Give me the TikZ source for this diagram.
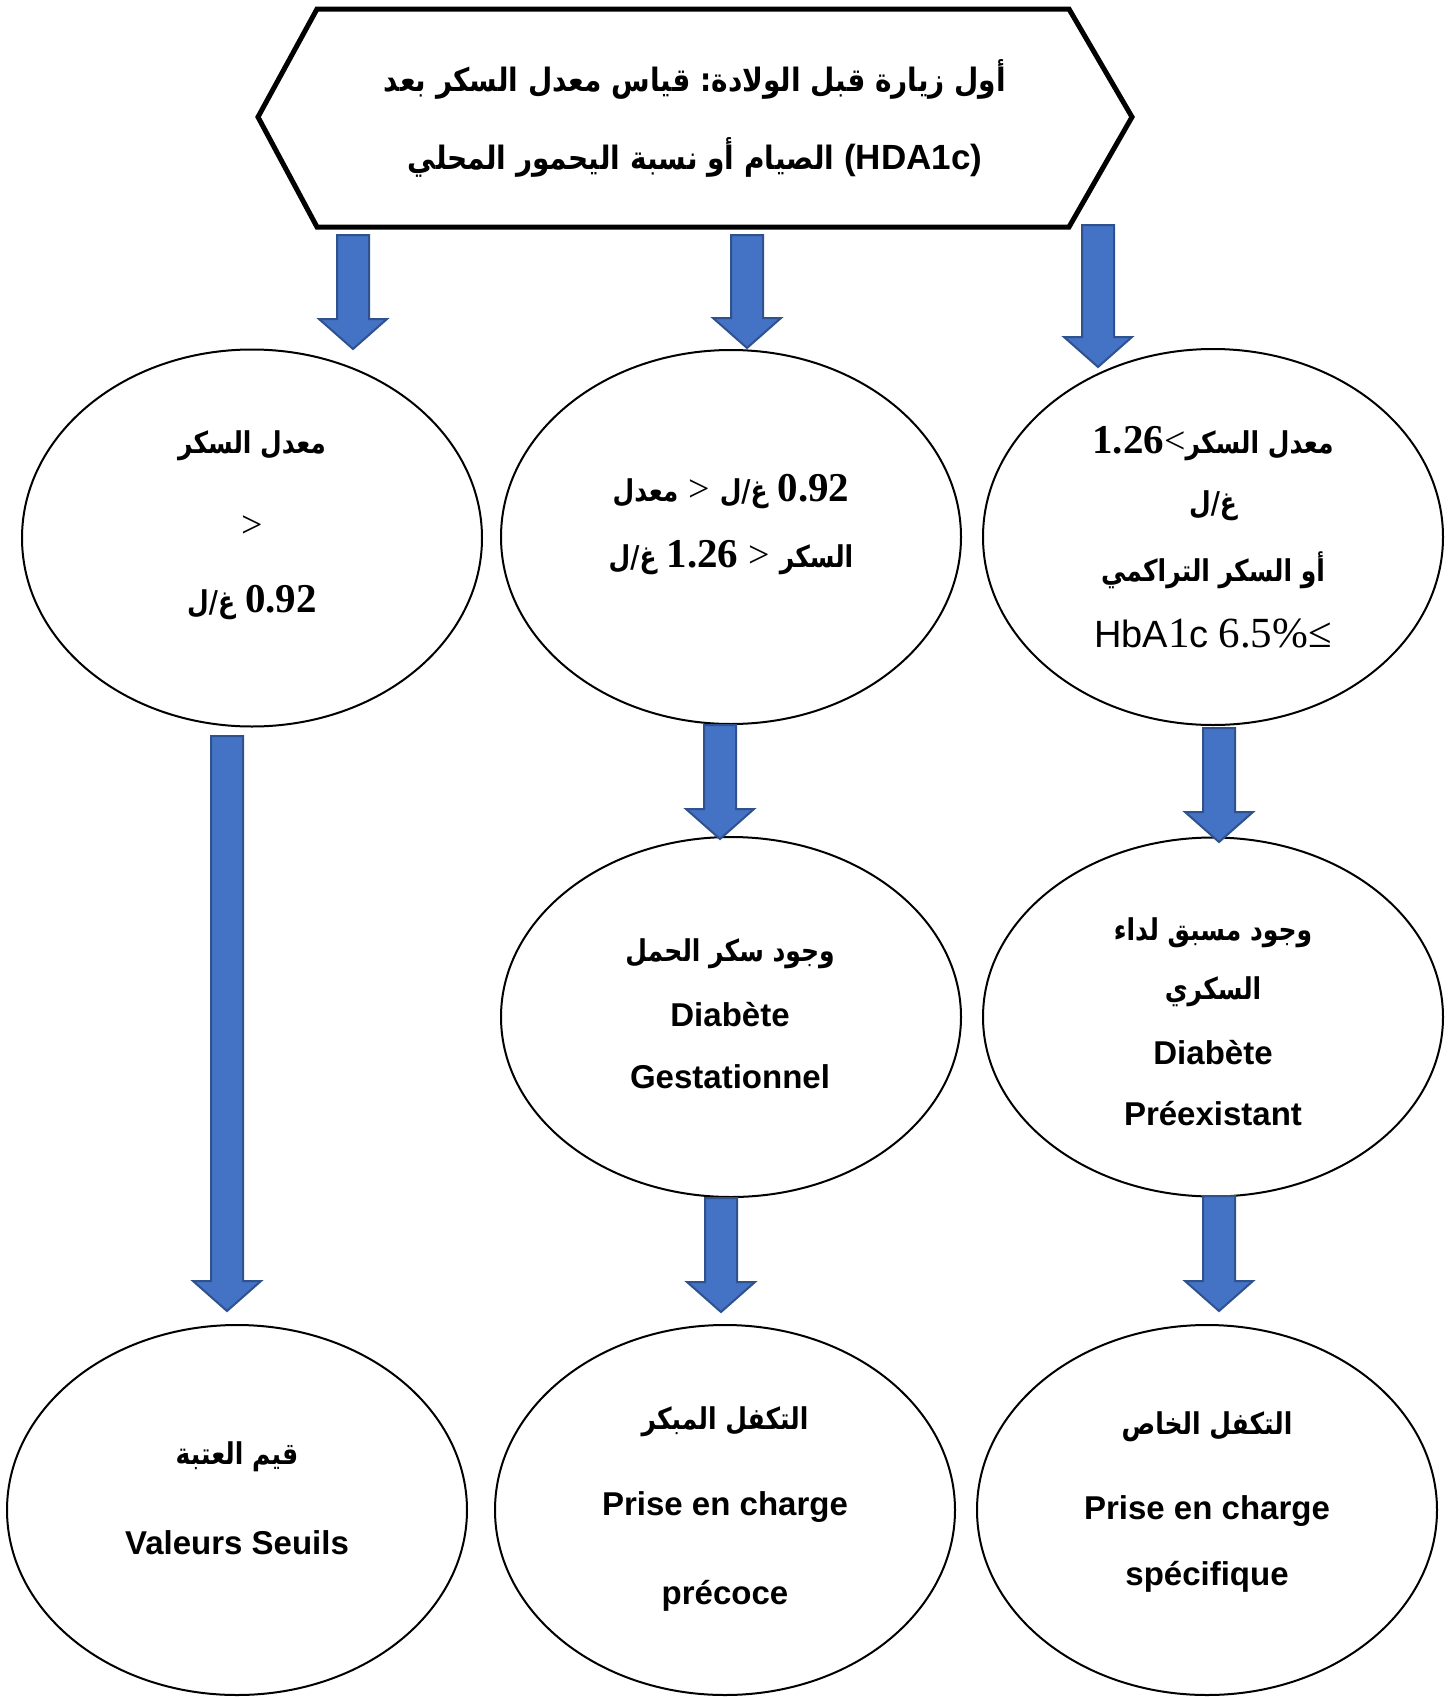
\documentclass[tikz,border=0pt]{standalone}
\usepackage{fontspec}
\usepackage{graphicx}
\usetikzlibrary{shapes.geometric,calc}
\setmainfont{Liberation Serif}
\newfontfamily\arfont[Script=Arabic]{DejaVu Sans}
\newfontfamily\lsans{Liberation Sans}
\TeXXeTstate=1
\frenchspacing

\definecolor{arrowfill}{HTML}{4472C4}
\definecolor{arrowedge}{HTML}{2F528F}

% Arabic run, bold, set right to left
\newcommand\ARb[1]{{\arfont\bfseries\beginR #1\endR}}
% the same, a little taller, for the text inside the ellipses
\newcommand\ARs[1]{\scalebox{1}[1.2]{\ARb{#1}}}
% font sizes
\newcommand\arsz{\fontsize{25}{30}\selectfont}
\newcommand\ttlsz{\fontsize{28}{36}\selectfont}
\newcommand\numsz{\fontsize{41}{48}\selectfont\bfseries}
\newcommand\relsz{\fontsize{38}{44}\selectfont}
\newcommand\latsz{\fontsize{33}{40}\selectfont\lsans\bfseries}
\newcommand\hbsz{\fontsize{38}{44}\selectfont\lsans}
\newcommand\hbnum{\fontsize{43}{50}\selectfont}
\newcommand\gap{\hspace{10pt}}

% broad block arrow from a start coordinate down to a tip coordinate
\newcommand\blockarrow[2]{%
  \draw[barrow] ($(#1)+(-16,0)$) -- ($(#2)+(-16,-30)$) -- ($(#2)+(-34,-30)$)
    -- (#2) -- ($(#2)+(34,-30)$) -- ($(#2)+(16,-30)$) -- ($(#1)+(16,0)$) -- cycle;}

\begin{document}
\begin{tikzpicture}[x=1pt,y=-1pt,
  ebox/.style={ellipse, draw=black, line width=2pt, fill=white,
    minimum width=460pt, inner sep=0pt},
  txt/.style={inner sep=0pt, anchor=center},
  barrow/.style={fill=arrowfill, draw=arrowedge, line width=2pt, line join=miter}]

\fill[white] (0,0) rectangle (1451,1697);
\useasboundingbox (0,0) rectangle (1451,1697);

% ---- heading hexagon ----
\draw[line width=5pt, line join=miter, fill=white]
  (317,9) -- (1069,9) -- (1132,117) -- (1069,227) -- (317,227) -- (258,117) -- cycle;
\node[txt, font=\ttlsz] (h1) at (695,79)
  {\scalebox{1}[1.15]{\ARb{أول زيارة قبل الولادة: قياس معدل السكر بعد}}};
\node[txt, font=\ttlsz] (h2) at (695,157)
  {\scalebox{1}[1.15]{\ARb{الصيام أو نسبة اليحمور المحلي}}\gap{\fontsize{35}{40}\selectfont\lsans\bfseries (HDA1c)}};

% ---- first row ----
\node[ebox, minimum height=377pt] (e1) at (252,538) {};
\node[ebox, minimum height=374pt] (e2) at (731,537) {};
\node[ebox, minimum height=376pt] (e3) at (1213,537) {};

\node[txt, font=\arsz] (e1a) at (252,446) {\ARs{معدل السكر}};
\node[txt, font=\relsz] (e1b) at (252,527) {>};
\node[txt] (e1c) at (252,603) {{\arsz\ARs{غ/ل}}\gap{\numsz 0.92}};

\node[txt] (e2a) at (731,492)
  {{\arsz\ARs{معدل}}\gap{\relsz >}\gap{\arsz\ARs{غ/ل}}\gap{\numsz 0.92}};
\node[txt] (e2b) at (731,558)
  {{\arsz\ARs{غ/ل}}\gap{\numsz 1.26}\gap{\relsz >}\gap{\arsz\ARs{السكر}}};

\node[txt] (e3a) at (1213,444) {{\numsz 1.26}{\relsz <}{\arsz\ARs{معدل السكر}}};
\node[txt, font=\arsz] (e3b) at (1213,506) {\ARs{غ/ل}};
\node[txt, font=\arsz] (e3c) at (1213,570) {\ARs{أو السكر التراكمي}};
\node[txt] (e3d) at (1213,633)
  {{\hbsz HbA}{\hbnum 1}{\hbsz c}\gap{\hbnum 6.5\%≤}};

% ---- second row ----
\node[ebox, minimum height=360pt] (e4) at (731,1017) {};
\node[ebox, minimum height=359pt] (e5) at (1213,1017) {};

\node[txt, font=\arsz] (e4a) at (730,954) {\ARs{وجود سكر الحمل}};
\node[txt, font=\latsz] (e4b) at (730,1015) {Diabète};
\node[txt, font=\latsz] (e4c) at (730,1077) {Gestationnel};

\node[txt, font=\arsz] (e5a) at (1213,933) {\ARs{وجود مسبق لداء}};
\node[txt, font=\arsz] (e5b) at (1213,992) {\ARs{السكري}};
\node[txt, font=\latsz] (e5c) at (1213,1053) {Diabète};
\node[txt, font=\latsz] (e5d) at (1213,1114) {Préexistant};

% ---- third row ----
\node[ebox, minimum height=370pt] (e6) at (237,1510) {};
\node[ebox, minimum height=370pt] (e7) at (725,1510) {};
\node[ebox, minimum height=370pt] (e8) at (1207,1510) {};

\node[txt, font=\arsz] (e6a) at (237,1457) {\ARs{قيم العتبة}};
\node[txt, font=\latsz] (e6b) at (237,1543) {Valeurs Seuils};

\node[txt, font=\arsz] (e7a) at (725,1422) {\ARs{التكفل المبكر}};
\node[txt, font=\latsz] (e7b) at (725,1507) {Prise en charge};
\node[txt, font=\latsz] (e7c) at (725,1596) {précoce};

\node[txt, font=\arsz] (e8a) at (1207,1427) {\ARs{التكفل الخاص}};
\node[txt, font=\latsz] (e8b) at (1207,1511) {Prise en charge};
\node[txt, font=\latsz] (e8c) at (1207,1577) {spécifique};

% ---- arrows ----
\coordinate (a1s) at (353,235);   \coordinate (a1e) at (353,349);
\coordinate (a2s) at (747,235);   \coordinate (a2e) at (747,348);
\coordinate (a3s) at (1098,225);  \coordinate (a3e) at (1098,367);
\coordinate (a4s) at (227,736);   \coordinate (a4e) at (227,1311);
\coordinate (a5s) at (720,725);   \coordinate (a5e) at (720,839);
\coordinate (a6s) at (1219,728);  \coordinate (a6e) at (1219,842);
\coordinate (a7s) at (721,1198);  \coordinate (a7e) at (721,1312);
\coordinate (a8s) at (1219,1196); \coordinate (a8e) at (1219,1311);
\blockarrow{a1s}{a1e}
\blockarrow{a2s}{a2e}
\blockarrow{a3s}{a3e}
\blockarrow{a4s}{a4e}
\blockarrow{a5s}{a5e}
\blockarrow{a6s}{a6e}
\blockarrow{a7s}{a7e}
\blockarrow{a8s}{a8e}
\end{tikzpicture}
\end{document}
